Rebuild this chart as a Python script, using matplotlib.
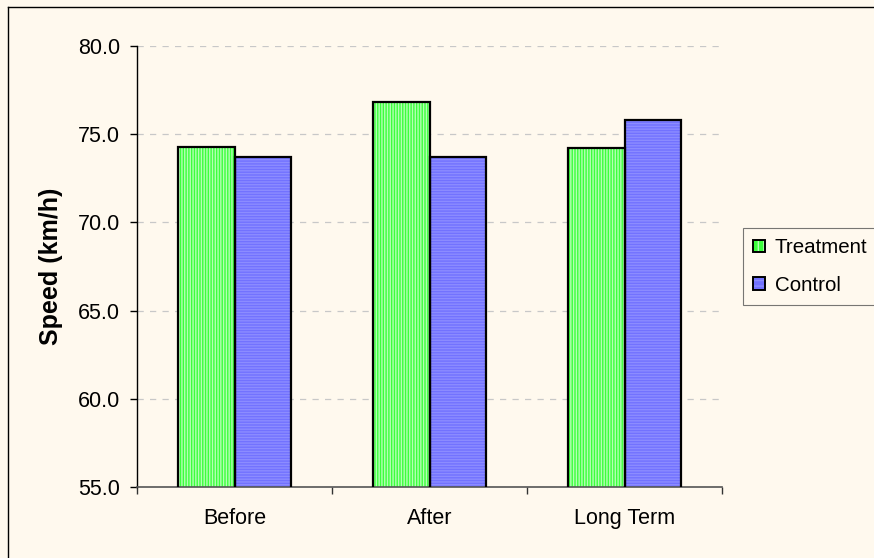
import matplotlib
matplotlib.use("Agg")
import matplotlib.pyplot as plt
import numpy as np
from matplotlib.patches import Patch
from matplotlib.lines import Line2D
from matplotlib.legend_handler import HandlerTuple

categories = ["Before", "After", "Long Term"]
treatment = [74.3, 76.8, 74.2]
control = [73.7, 73.7, 75.8]
series_names = ["Treatment", "Control"]

bg = "#FFF9EE"
plt.rcParams["font.family"] = ["Liberation Sans", "DejaVu Sans"]
plt.rcParams["hatch.linewidth"] = 1.0

fig = plt.figure(figsize=(8.74, 5.58), dpi=100, facecolor=bg)
ax = fig.add_axes([137 / 874, 1 - 487 / 558, (722 - 137) / 874, (487 - 46) / 558])
ax.set_facecolor(bg)

x = np.arange(len(categories))
w = 0.292

styles = [
    dict(face="#3CFF3C", line="#B4FFB4", hatch="||||||"),
    dict(face="#7272FF", line="#8C8CFF", hatch="------"),
]

handles = []
for i, (vals, st) in enumerate(zip([treatment, control], styles)):
    pos = x + (i - 0.5) * w
    ax.bar(pos, vals, width=w, bottom=0, color=st["face"], edgecolor=st["line"],
           hatch=st["hatch"], linewidth=0, zorder=2)
    ax.bar(pos, vals, width=w, fill=False, edgecolor="black", linewidth=1.6, zorder=3)
    handles.append((Patch(facecolor=st["face"], edgecolor=st["line"], hatch=st["hatch"][:3], linewidth=0),
                    Patch(fill=False, edgecolor="black", linewidth=1.4)))

ax.set_ylim(55, 80)
ax.set_xlim(-0.5, 2.5)
ax.set_yticks(np.arange(55, 80.1, 5))
ax.set_yticklabels([f"{v:.1f}" for v in np.arange(55, 80.1, 5)])
ax.set_xticks(x)
ax.set_xticklabels(categories)
ax.set_xticks([-0.5, 0.5, 1.5, 2.5], minor=True)

ax.tick_params(axis="x", which="major", length=0, pad=15, labelsize=15.5)
ax.tick_params(axis="x", which="minor", length=5, width=1, color="#333333", direction="out")
ax.tick_params(axis="y", which="major", length=5, width=1, pad=7, labelsize=15.5, direction="out")

for s in ["top", "right"]:
    ax.spines[s].set_visible(False)
ax.spines["left"].set_color("black")
ax.spines["left"].set_linewidth(1.0)
ax.spines["bottom"].set_color("#555555")
ax.spines["bottom"].set_linewidth(1.2)

ax.yaxis.grid(True, linestyle=(0, (5, 5)), color="#C8C8C8", linewidth=0.9, zorder=0)
ax.set_axisbelow(True)

ax.set_ylabel("Speed (km/h)", fontsize=18, fontweight="bold", labelpad=11)

leg = fig.legend(handles, series_names, loc="upper left",
                 bbox_to_anchor=(743 / 874, 1 - 228 / 558),
                 handler_map={tuple: HandlerTuple(ndivide=1)},
                 fontsize=14.8, frameon=True, fancybox=False, handlelength=0.55,
                 handleheight=0.55, handletextpad=0.5, labelspacing=0.9,
                 borderpad=0.5, borderaxespad=0)
leg.get_frame().set_edgecolor("#555555")
leg.get_frame().set_facecolor(bg)
leg.get_frame().set_linewidth(0.8)

# Chart area border: left and top edges
x0, y1 = 7.5 / 874, 1 - 6.5 / 558
fig.add_artist(Line2D([x0, x0], [0, y1], transform=fig.transFigure, color="black", lw=1.0))
fig.add_artist(Line2D([x0, 1], [y1, y1], transform=fig.transFigure, color="black", lw=1.0))

fig.savefig("out.png", dpi=100, facecolor=bg)
